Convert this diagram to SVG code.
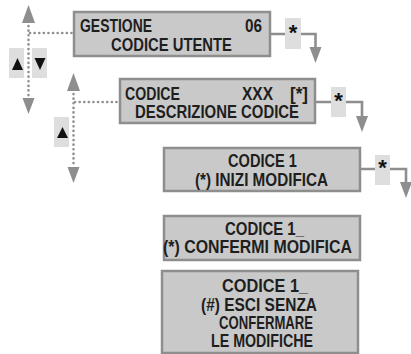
<svg xmlns="http://www.w3.org/2000/svg" xmlns:xlink="http://www.w3.org/1999/xlink" width="411" height="354" viewBox="0 0 411 354">
<defs>
<style>
.box{fill:#c9c9c9;stroke:#8e8e8e;stroke-width:2.5}
.t{font-family:"Liberation Sans Narrow","Liberation Sans",Arial,sans-serif;font-weight:bold;font-size:19px;fill:#1e1e1e}
.star{font-family:"Liberation Sans",Arial,sans-serif;font-weight:bold;font-size:22px;fill:#111;text-anchor:middle}
.sbox{fill:#dedede}
.ln{fill:none;stroke:#8e8e8e;stroke-width:2.6}
.dot{fill:none;stroke:#909090;stroke-width:2.6;stroke-linecap:round;stroke-dasharray:0.1 4.5}
.ah{fill:#8e8e8e}
.btn{fill:#dedede}
.tri{fill:#111}
</style>
<polygon id="ad" points="-6,0 6,0 0,16"/>
<polygon id="au" points="-6.5,0 6.5,0 0,-18"/>
</defs>

<g id="connectors">
  <line class="dot" x1="28.5" y1="26" x2="28.5" y2="96"/>
  <line class="dot" x1="30" y1="33" x2="73" y2="33"/>
  <use href="#au" class="ah" x="28.5" y="23"/>
  <use href="#ad" class="ah" x="28.5" y="98"/>
  <line class="dot" x1="73.5" y1="94" x2="73.5" y2="165"/>
  <line class="dot" x1="75" y1="102" x2="119" y2="102"/>
  <use href="#au" class="ah" x="73.5" y="91"/>
  <use href="#ad" class="ah" x="73.5" y="167"/>
  <path class="ln" d="M270,34 H285 M301,34 H315.5 V48"/>
  <use href="#ad" class="ah" x="315.5" y="47"/>
  <path class="ln" d="M315,102 H331 M346,102 H362 V117"/>
  <use href="#ad" class="ah" x="362" y="116"/>
  <path class="ln" d="M360,169 H375 M390,169 H406 V183"/>
  <use href="#ad" class="ah" x="406" y="182"/>
</g>

<g id="key-updown">
  <rect class="btn" x="9" y="48" width="15" height="30"/>
  <polygon class="tri" points="12,70 23,70 17.5,58"/>
  <rect class="btn" x="32" y="48" width="15" height="30"/>
  <polygon class="tri" points="34.5,58 45.5,58 40,70"/>
</g>
<g id="key-up">
  <rect class="btn" x="54" y="117" width="15" height="30"/>
  <polygon class="tri" points="57,138 68,138 62.5,127"/>
</g>

<g id="node-gestione">
  <rect class="box" x="74" y="12" width="196" height="44"/>
  <text class="t" x="80" y="32" textLength="72" lengthAdjust="spacingAndGlyphs">GESTIONE</text>
  <text class="t" x="245" y="32" textLength="17" lengthAdjust="spacingAndGlyphs">06</text>
  <text class="t" x="111" y="51" textLength="121" lengthAdjust="spacingAndGlyphs">CODICE UTENTE</text>
</g>
<g id="star-1">
  <rect class="sbox" x="285" y="18" width="16" height="31"/>
  <text class="star" x="293" y="40">*</text>
</g>

<g id="node-codice">
  <rect class="box" x="120" y="79" width="195" height="44"/>
  <text class="t" x="125" y="100" textLength="55" lengthAdjust="spacingAndGlyphs">CODICE</text>
  <text class="t" x="242" y="100" textLength="31" lengthAdjust="spacingAndGlyphs">XXX</text>
  <text class="t" x="290" y="100" textLength="18" lengthAdjust="spacingAndGlyphs">[*]</text>
  <text class="t" x="135" y="118" textLength="164" lengthAdjust="spacingAndGlyphs">DESCRIZIONE  CODICE</text>
</g>
<g id="star-2">
  <rect class="sbox" x="331" y="87" width="15" height="30"/>
  <text class="star" x="338.5" y="108">*</text>
</g>

<g id="node-inizi">
  <rect class="box" x="164" y="148" width="196" height="43"/>
  <text class="t" x="228" y="167" textLength="69" lengthAdjust="spacingAndGlyphs">CODICE 1</text>
  <text class="t" x="195" y="186" textLength="133" lengthAdjust="spacingAndGlyphs">(*) INIZI MODIFICA</text>
</g>
<g id="star-3">
  <rect class="sbox" x="375" y="155" width="15" height="30"/>
  <text class="star" x="382.5" y="175">*</text>
</g>

<g id="node-confermi">
  <rect class="box" x="164" y="216" width="196" height="44"/>
  <text class="t" x="225" y="235" textLength="79" lengthAdjust="spacingAndGlyphs">CODICE 1_</text>
  <text class="t" x="163" y="253" textLength="189" lengthAdjust="spacingAndGlyphs">(*) CONFERMI MODIFICA</text>
</g>

<g id="node-esci">
  <rect class="box" x="162" y="271" width="196" height="82"/>
  <text class="t" x="222" y="292" textLength="86" lengthAdjust="spacingAndGlyphs">CODICE 1_</text>
  <text class="t" x="201" y="311" textLength="116" lengthAdjust="spacingAndGlyphs">(#) ESCI SENZA</text>
  <text class="t" x="219" y="329" textLength="94" lengthAdjust="spacingAndGlyphs">CONFERMARE</text>
  <text class="t" x="211" y="347" textLength="102" lengthAdjust="spacingAndGlyphs">LE MODIFICHE</text>
</g>
</svg>
